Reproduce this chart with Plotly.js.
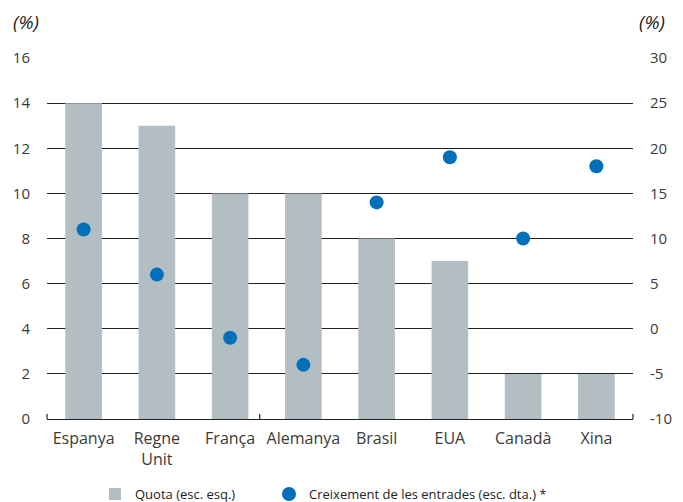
<!DOCTYPE html>
<html>
<head>
<meta charset="utf-8">
<script src="https://cdn.plot.ly/plotly-3.0.1.min.js"></script>
<style>
  html, body { margin: 0; padding: 0; background: #fff; }
  #chart { width: 683px; height: 502px; }
</style>
</head>
<body>
<div id="chart"></div>
<script>
// Categories (countries) and the two series
const countries = ["Espanya", "Regne<br>Unit", "França", "Alemanya", "Brasil", "EUA", "Canadà", "Xina"];
const quota = [14, 13, 10, 10, 8, 7, 2, 2];          // left scale (%)
const creixement = [11, 6, -1, -4, 14, 19, 10, 18];  // right scale (%)

const leftTicks = [0, 2, 4, 6, 8, 10, 12, 14, 16];
const rightTicks = [-10, -5, 0, 5, 10, 15, 20, 25, 30];

const FONT = "Open Sans, Noto Sans, sans-serif";
const TEXT = "#3a3a3a";

const traces = [
  {
    type: "bar",
    name: "Quota (esc. esq.)",
    x: countries,
    y: quota,
    width: 0.5,
    marker: { color: "#b3bec3", line: { width: 0 } },
    yaxis: "y",
    legend: "legend",
    hoverinfo: "skip"
  },
  {
    type: "scatter",
    mode: "markers",
    name: "Creixement de les entrades (esc. dta.) *",
    x: countries,
    y: creixement,
    marker: { color: "#0070bb", size: 14 },
    yaxis: "y2",
    legend: "legend2",
    hoverinfo: "skip"
  }
];

// Baseline with small upturned ticks
const baseTicks = [0, 0.363, 1].map(xp => ({
  type: "line", xref: "paper", yref: "paper",
  x0: xp, x1: xp, y0: 0, y1: 0.014,
  line: { color: "#222", width: 1.2 }
}));

const legendFont = { family: FONT, size: 13, color: "#222" };

const layout = {
  width: 683,
  height: 502,
  margin: { l: 47, r: 50, t: 58, b: 83 },
  paper_bgcolor: "#fff",
  plot_bgcolor: "#fff",
  font: { family: FONT, size: 15, color: TEXT },
  showlegend: true,
  xaxis: {
    type: "category",
    range: [-0.5, 7.5],
    automargin: false,
    showgrid: false,
    showline: true,
    linecolor: "#222",
    linewidth: 1.2,
    ticks: "",
    ticklabelstandoff: 5,
    tickfont: { family: FONT, size: 16, color: TEXT },
    fixedrange: true
  },
  yaxis: {
    range: [0, 16],
    automargin: false,
    tickvals: leftTicks,
    ticktext: leftTicks.map(String),
    showgrid: true,
    gridcolor: "#222",
    gridwidth: 1,
    zeroline: false,
    showline: false,
    ticks: "",
    ticklabelstandoff: 16,
    tickfont: { family: FONT, size: 15, color: TEXT },
    fixedrange: true
  },
  yaxis2: {
    overlaying: "y",
    side: "right",
    range: [-10, 30],
    automargin: false,
    tickvals: rightTicks,
    ticktext: rightTicks.map(String),
    showgrid: false,
    zeroline: false,
    showline: false,
    ticks: "",
    ticklabelstandoff: 16,
    tickfont: { family: FONT, size: 15, color: TEXT },
    fixedrange: true
  },
  legend: {
    orientation: "h",
    xref: "container", yref: "container",
    x: 95 / 683, xanchor: "left",
    y: 8 / 502, yanchor: "middle",
    font: legendFont,
    itemwidth: 30
  },
  legend2: {
    orientation: "h",
    xref: "container", yref: "container",
    x: 269 / 683, xanchor: "left",
    y: 8 / 502, yanchor: "middle",
    font: legendFont,
    itemwidth: 30
  },
  shapes: baseTicks,
  annotations: [
    {
      text: "<i>(%)</i>", xref: "paper", yref: "paper",
      x: 0, y: 1, xshift: -36, yshift: 36,
      xanchor: "left", yanchor: "middle", showarrow: false,
      font: { family: FONT, size: 19, color: "#222" }
    },
    {
      text: "<i>(%)</i>", xref: "paper", yref: "paper",
      x: 1, y: 1, xshift: 34, yshift: 36,
      xanchor: "right", yanchor: "middle", showarrow: false,
      font: { family: FONT, size: 19, color: "#222" }
    }
  ]
};

Plotly.newPlot("chart", traces, layout, { displayModeBar: false, staticPlot: true });
</script>
</body>
</html>
